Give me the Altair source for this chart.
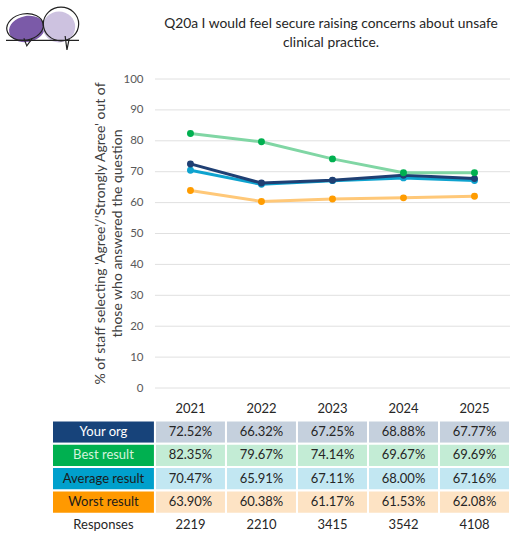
import altair as alt
import pandas as pd

# ---- data -----------------------------------------------------------------
years = ["2021", "2022", "2023", "2024", "2025"]
series = ["Your org", "Best result", "Average result", "Worst result"]
your_org = [72.52, 66.32, 67.25, 68.88, 67.77]
best_result = [82.35, 79.67, 74.14, 69.67, 69.69]
average_result = [70.47, 65.91, 67.11, 68.00, 67.16]
worst_result = [63.90, 60.38, 61.17, 61.53, 62.08]
responses = [2219, 2210, 3415, 3542, 4108]
y_ticks = list(range(0, 101, 10))

title_lines = ["Q20a I would feel secure raising concerns about unsafe", "clinical practice."]
y_title = ["% of staff selecting 'Agree'/'Strongly Agree' out of",
           "those who answered the question"]

# ---- styling --------------------------------------------------------------
FONT = "Lato"
line_color = {"Your org": "#1f3f73", "Best result": "#80d6a4",
              "Average result": "#0ea3cf", "Worst result": "#ffc878"}
dot_color = {"Your org": "#1f3f73", "Best result": "#00b050",
             "Average result": "#0ea3cf", "Worst result": "#ff9c00"}
head_fill = {"Your org": "#17437a", "Best result": "#00b050",
             "Average result": "#00a0cc", "Worst result": "#ff9900"}
head_text = {"Your org": "#ffffff", "Best result": "#d4f3dc",
             "Average result": "#1b1b1b", "Worst result": "#1b1b1b"}
cell_fill = {"Your org": "#c5d0dd", "Best result": "#c3ecd5",
             "Average result": "#c2e7f2", "Worst result": "#fde3c4"}

# horizontal layout: one unit per year column, label column to the left
LABEL_COL = -1.45
x_scale = alt.Scale(domain=[LABEL_COL, len(years)], nice=False, zero=False)
y_scale = alt.Scale(domain=[0, 100], nice=False, zero=False)

table_rows = ["year"] + series + ["Responses"]
table_y = alt.Scale(type="band", domain=table_rows, range=[318.2, 458.0],
                    paddingInner=0, paddingOuter=0)

values = {"Your org": your_org, "Best result": best_result,
          "Average result": average_result, "Worst result": worst_result}

# ---- frames -----------------------------------------------------------------
grid_df = pd.DataFrame({"v": y_ticks, "x0": 0, "x1": len(years)})

line_rows = []
for s in series:
    for i, (yr, v) in enumerate(zip(years, values[s])):
        line_rows.append({"series": s, "year": yr, "value": v, "xc": i + 0.5})
line_df = pd.DataFrame(line_rows)

cells = []
for s in series:
    cells.append({"row": s, "x0": LABEL_COL, "x1": 0, "fill": head_fill[s],
                  "xc": LABEL_COL / 2, "text": s, "tc": head_text[s]})
    for i, v in enumerate(values[s]):
        cells.append({"row": s, "x0": i, "x1": i + 1, "fill": cell_fill[s],
                      "xc": i + 0.5, "text": f"{v:.2f}%", "tc": "#262626"})
cell_df = pd.DataFrame(cells)

plain = [{"row": "Responses", "xc": LABEL_COL / 2, "text": "Responses"}]
for i, (yr, n) in enumerate(zip(years, responses)):
    plain.append({"row": "year", "xc": i + 0.5, "text": yr})
    plain.append({"row": "Responses", "xc": i + 0.5, "text": str(n)})
plain_df = pd.DataFrame(plain)

# ---- plot -------------------------------------------------------------------
grid = alt.Chart(grid_df).mark_rule(color="#e0e0e0", strokeWidth=1).encode(
    x=alt.X("x0:Q", scale=x_scale, axis=None),
    x2="x1:Q",
    y=alt.Y("v:Q", scale=y_scale, axis=alt.Axis(
        values=y_ticks, grid=False, domain=False, ticks=False,
        offset=-101, labelPadding=10, labelFont=FONT, labelFontSize=11.5,
        labelColor="#595959", title=y_title, titleFont=FONT,
        titleFontSize=14, titleFontWeight="normal", titleColor="#404040",
        titleAngle=270, titleX=-53, titleY=154, titleAlign="center",
        titleBaseline="middle", titleLineHeight=17)),
)

series_layers = []
for s in ["Worst result", "Average result", "Your org", "Best result"]:
    d = line_df[line_df.series == s]
    base = alt.Chart(d).encode(
        x=alt.X("xc:Q", scale=x_scale, axis=None),
        y=alt.Y("value:Q", scale=y_scale, axis=None),
    )
    series_layers.append(base.mark_line(color=line_color[s], strokeWidth=3))
    series_layers.append(base.mark_circle(color=dot_color[s], size=48, opacity=1))

rects = alt.Chart(cell_df).mark_rect(stroke="white", strokeWidth=2).encode(
    x=alt.X("x0:Q", scale=x_scale, axis=None),
    x2="x1:Q",
    y=alt.Y("row:N", scale=table_y, axis=None),
    fill=alt.Fill("fill:N", scale=None),
)
cell_text = alt.Chart(cell_df).mark_text(font=FONT, fontSize=13).encode(
    x=alt.X("xc:Q", scale=x_scale, axis=None),
    y=alt.Y("row:N", scale=table_y, axis=None, bandPosition=0.5),
    text="text:N",
    color=alt.Color("tc:N", scale=None),
)
plain_text = alt.Chart(plain_df).mark_text(font=FONT, fontSize=13, color="#262626").encode(
    x=alt.X("xc:Q", scale=x_scale, axis=None),
    y=alt.Y("row:N", scale=table_y, axis=None, bandPosition=0.5),
    text="text:N",
)

# ---- heading and speech-bubble logo ------------------------------------------
one = pd.DataFrame({"k": [0]})
heading = alt.Chart(one).mark_text(
    font=FONT, fontSize=13.8, color="#262626", align="center",
    baseline="middle", lineHeight=19,
).encode(x=alt.value(279), y=alt.value(-55), text=alt.value(title_lines))

ELLIPSE = "M-1,0A1,0.72,0,1,1,1,0A1,0.72,0,1,1,-1,0Z"
CIRCLE = "M-1,0A1,0.95,0,1,1,1,0A1,0.95,0,1,1,-1,0Z"
# baseline stroke with the two bubble tails
BASELINE = ("M-1,0.01L1,0.01"
            "M-0.51,-0.05L-0.43,0.16L-0.29,-0.03"
            "M0.62,-0.11L0.67,0.27L0.73,-0.03")
INK = "#222222"
logo = [
    alt.Chart(one).mark_point(shape=ELLIPSE, filled=True, size=1300, angle=350,
                              color="#7b5aa8", opacity=1).encode(
        x=alt.value(-25), y=alt.value(-50)),
    alt.Chart(one).mark_point(shape=CIRCLE, filled=True, size=1050,
                              color="#cdc2e0", opacity=1).encode(
        x=alt.value(7), y=alt.value(-52)),
    alt.Chart(one).mark_point(shape=ELLIPSE, filled=False, size=1350, angle=350,
                              color=INK, strokeWidth=1.2, opacity=1).encode(
        x=alt.value(-27), y=alt.value(-52)),
    alt.Chart(one).mark_point(shape=CIRCLE, filled=False, size=1250,
                              color=INK, strokeWidth=1.2, opacity=1).encode(
        x=alt.value(9), y=alt.value(-55)),
    alt.Chart(one).mark_point(shape=BASELINE, filled=False, size=5329,
                              color=INK, strokeWidth=1.2, opacity=1).encode(
        x=alt.value(-9.5), y=alt.value(-39)),
]

chart = alt.layer(
    grid, *series_layers, rects, cell_text, plain_text, heading, *logo
).resolve_scale(
    y="independent"
).properties(
    width=458,
    height=309,
    autosize=alt.AutoSizeParams(type="none"),
    padding={"left": 52, "top": 79, "right": 0, "bottom": 145},
).configure_view(stroke=None)

chart.save("out.html", embed_options={"renderer": "svg", "actions": False})
